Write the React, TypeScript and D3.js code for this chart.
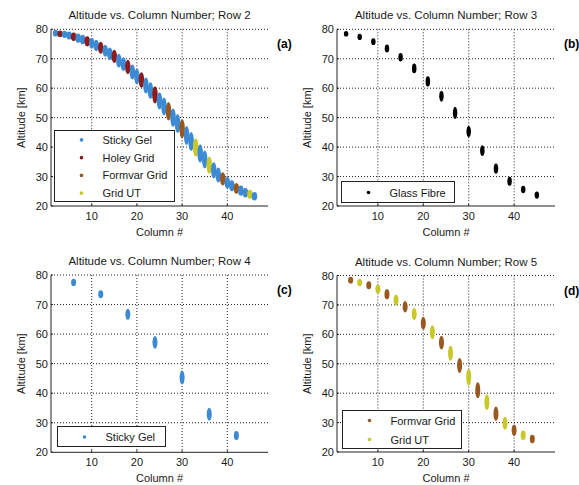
import React from "react";
import * as d3 from "d3";

// Row 2: every column 2..46, one sample type per column
const row2Cols = [2, 3, 4, 5, 6, 7, 8, 9, 10, 11, 12, 13, 14, 15, 16, 17, 18, 19, 20, 21, 22, 23, 24, 25, 26, 27, 28, 29, 30, 31, 32, 33, 34, 35, 36, 37, 38, 39, 40, 41, 42, 43, 44, 45, 46];
const row2Alt = [78.7, 78.5, 78.3, 77.9, 77.5, 77.0, 76.5, 75.9, 75.3, 74.5, 73.7, 72.7, 71.7, 70.8, 69.4, 68.2, 67.2, 65.5, 64.0, 62.8, 60.9, 59.2, 57.7, 55.7, 53.8, 52.2, 50.0, 48.0, 46.2, 43.9, 41.9, 39.9, 37.8, 35.8, 33.9, 32.1, 30.5, 29.2, 27.9, 26.9, 26.0, 25.2, 24.5, 24.0, 23.3];
const row2Spread = [0.2, 0.2, 0.3, 0.4, 0.5, 0.6, 0.7, 0.8, 0.9, 1.0, 1.1, 1.1, 1.2, 1.3, 1.4, 1.4, 1.5, 1.6, 1.7, 1.7, 1.8, 1.9, 2.0, 2.0, 2.1, 2.2, 2.2, 2.3, 2.3, 2.3, 2.3, 2.2, 2.2, 2.1, 2.0, 1.8, 1.6, 1.3, 1.1, 1.0, 0.9, 0.8, 0.7, 0.6, 0.5];
const row2Type = ["S", "H", "S", "S", "H", "S", "S", "H", "S", "S", "H", "S", "S", "H", "S", "S", "H", "S", "S", "H", "S", "S", "H", "S", "S", "F", "S", "S", "F", "S", "S", "U", "S", "S", "U", "S", "S", "F", "S", "S", "F", "S", "S", "U", "S"];

// Row 3: glass fibre
const row3Cols = [3, 6, 9, 12, 15, 18, 21, 24, 27, 30, 33, 36, 39, 42, 45];
const row3Alt = [78.5, 77.4, 75.8, 73.5, 70.5, 66.7, 62.3, 57.3, 51.6, 45.3, 38.8, 32.7, 28.4, 25.6, 23.7];
const row3Spread = [0.2, 0.3, 0.4, 0.6, 0.7, 0.9, 1.0, 1.1, 1.3, 1.2, 1.1, 1.0, 0.8, 0.5, 0.5];

// Row 4: sticky gel
const row4Cols = [6, 12, 18, 24, 30, 36, 42];
const row4Alt = [77.5, 73.5, 66.7, 57.2, 45.3, 32.9, 25.7];
const row4Spread = [0.4, 0.5, 1.0, 1.3, 1.5, 1.3, 0.7];

// Row 5: formvar grid and grid UT
const row5FormvarCols = [4, 8, 12, 16, 20, 24, 28, 32, 36, 40, 44];
const row5FormvarAlt = [78.4, 76.7, 73.6, 69.4, 63.8, 57.2, 49.4, 41.0, 33.0, 27.4, 24.4];
const row5FormvarSpread = [0.3, 0.5, 0.9, 1.1, 1.3, 1.5, 1.7, 1.9, 1.6, 1.1, 0.6];
const row5UTCols = [6, 10, 14, 18, 22, 26, 30, 34, 38, 42];
const row5UTAlt = [77.6, 75.4, 71.7, 66.9, 60.7, 53.6, 45.4, 36.9, 29.8, 25.7];
const row5UTSpread = [0.4, 0.7, 1.0, 1.2, 1.5, 1.7, 2.0, 1.8, 1.3, 0.8];

const xTicks = [10, 20, 30, 40];
const yTicks = [20, 30, 40, 50, 60, 70, 80];

const COLORS: Record<string, string> = {
  S: "#3d8ad4",
  H: "#8e1b1b",
  F: "#98581f",
  U: "#c8c82a",
  G: "#000000",
};
const NAMES: Record<string, string> = {
  S: "Sticky Gel",
  H: "Holey Grid",
  F: "Formvar Grid",
  U: "Grid UT",
  G: "Glass Fibre",
};

type Pt = { col: number; alt: number; spread: number; type: string };

const zip = (cols: number[], alt: number[], spread: number[], type: string): Pt[] =>
  cols.map((c, i) => ({ col: c, alt: alt[i], spread: spread[i], type }));

const row2Data: Pt[] = row2Cols.map((c, i) => ({ col: c, alt: row2Alt[i], spread: row2Spread[i], type: row2Type[i] }));
const row3Data = zip(row3Cols, row3Alt, row3Spread, "G");
const row4Data = zip(row4Cols, row4Alt, row4Spread, "S");
const row5Data = [
  ...zip(row5FormvarCols, row5FormvarAlt, row5FormvarSpread, "F"),
  ...zip(row5UTCols, row5UTAlt, row5UTSpread, "U"),
];

const FONT = "Liberation Sans, Arial, sans-serif";
const INK = "#1a1a1a";

type PanelProps = {
  title: string;
  tag: string;
  left: number;
  right: number;
  top: number;
  bottom: number;
  data: Pt[];
  legend: string[];
  legendBox: { x: number; y: number; w: number; h: number };
  markW: number;
};

function Panel({ title, tag, left, right, top, bottom, data, legend, legendBox, markW }: PanelProps) {
  const x = d3.scaleLinear().domain([1, 49]).range([left, right]);
  const y = d3.scaleLinear().domain([20, 80]).range([bottom, top]);
  const lb = legendBox;
  const rowH = lb.h / legend.length;
  return (
    <g fontFamily={FONT} fill={INK}>
      {/* grid */}
      {xTicks.map((t) => (
        <line key={"gx" + t} x1={x(t)} x2={x(t)} y1={top} y2={bottom} stroke="#222" strokeWidth={1} strokeDasharray="1,2" />
      ))}
      {yTicks.slice(1).map((t) => (
        <line key={"gy" + t} x1={left} x2={right} y1={y(t)} y2={y(t)} stroke="#222" strokeWidth={1} strokeDasharray="1,2" />
      ))}
      {/* axes */}
      <line x1={left} x2={left} y1={top} y2={bottom} stroke="#222" strokeWidth={1} />
      <line x1={left} x2={right} y1={bottom} y2={bottom} stroke="#222" strokeWidth={1} />
      {xTicks.map((t) => (
        <g key={"tx" + t}>
          <line x1={x(t)} x2={x(t)} y1={bottom} y2={bottom - 2} stroke="#222" />
          <text x={x(t)} y={bottom + 14} fontSize={11} textAnchor="middle">{t}</text>
        </g>
      ))}
      {yTicks.map((t) => (
        <g key={"ty" + t}>
          <line x1={left} x2={left + 2} y1={y(t)} y2={y(t)} stroke="#222" />
          <text x={left - 3} y={y(t) + 4} fontSize={11} textAnchor="end">{t}</text>
        </g>
      ))}
      <text x={(left + right) / 2} y={top - 10} fontSize={11.5} textAnchor="middle">{title}</text>
      <text x={(left + right) / 2} y={bottom + 30} fontSize={11} textAnchor="middle">Column #</text>
      <text transform={`translate(${left - 26},${(top + bottom) / 2}) rotate(-90)`} fontSize={11} textAnchor="middle">Altitude [km]</text>
      <text x={right + 9} y={top + 19} fontSize={12} fontWeight="bold" fill="#000">{tag}</text>
      {/* marks */}
      {data.map((d, i) => (
        <ellipse
          key={"m" + i}
          cx={x(d.col)}
          cy={y(d.alt)}
          rx={markW / 2}
          ry={(y(d.alt - d.spread) - y(d.alt + d.spread)) / 2 + markW / 2}
          fill={COLORS[d.type]}
        />
      ))}
      {/* legend */}
      <rect x={lb.x} y={lb.y} width={lb.w} height={lb.h} fill="#fff" stroke="#222" strokeWidth={1} />
      {legend.map((k, i) => {
        const cy = lb.y + rowH * (i + 0.5) + 0.5;
        return (
          <g key={"l" + k}>
            <circle cx={lb.x + 27} cy={cy} r={1.8} fill={COLORS[k]} />
            <text x={lb.x + 48} y={cy + 4} fontSize={11}>{NAMES[k]}</text>
          </g>
        );
      })}
    </g>
  );
}

export default function App() {
  return (
    <svg width={579} height={485} style={{ position: "absolute", left: 0, top: 0, background: "#fff" }}>
      <rect width={579} height={485} fill="#fff" />
      <Panel
        title="Altitude vs. Column Number; Row 2"
        tag="(a)"
        left={51}
        right={268}
        top={29.3}
        bottom={206}
        data={row2Data}
        legend={["S", "H", "F", "U"]}
        legendBox={{ x: 54.5, y: 130.5, w: 120, h: 71 }}
        markW={5.5}
      />
      <Panel
        title="Altitude vs. Column Number; Row 3"
        tag="(b)"
        left={337}
        right={555}
        top={29.3}
        bottom={206}
        data={row3Data}
        legend={["G"]}
        legendBox={{ x: 341.5, y: 181.5, w: 113, h: 21 }}
        markW={4.5}
      />
      <Panel
        title="Altitude vs. Column Number; Row 4"
        tag="(c)"
        left={51}
        right={268}
        top={275}
        bottom={452.3}
        data={row4Data}
        legend={["S"]}
        legendBox={{ x: 57.5, y: 426.5, w: 108, h: 20 }}
        markW={5}
      />
      <Panel
        title="Altitude vs. Column Number; Row 5"
        tag="(d)"
        left={337}
        right={555}
        top={275.5}
        bottom={452}
        data={row5Data}
        legend={["F", "U"]}
        legendBox={{ x: 342.5, y: 410.5, w: 119, h: 38 }}
        markW={5}
      />
    </svg>
  );
}
